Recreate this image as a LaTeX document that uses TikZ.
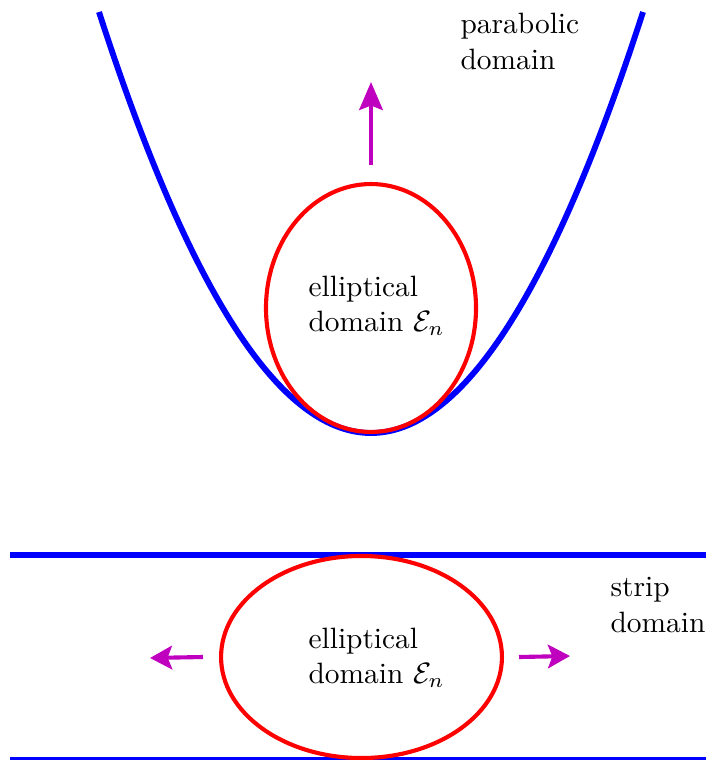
\documentclass[tikz,border=0pt]{standalone}
\usetikzlibrary{arrows.meta,shapes.geometric}
\definecolor{wallcol}{HTML}{0000FF}
\definecolor{ellcol}{HTML}{FF0000}
\definecolor{pushcol}{HTML}{BF00BF}
\tikzset{
	wall/.style={draw=wallcol,line width=2pt},
	ellbox/.style={ellipse,draw=ellcol,line width=1.4pt,inner sep=0pt},
	push/.style={draw=pushcol,line width=1.4pt,-{Stealth[length=#1,width=8pt,inset=1.5pt]}},
	push/.default=7.5pt,
	txt/.style={align=left,anchor=north west,inner sep=0pt}
}
\begin{document}
\begin{tikzpicture}[x=0.34pt,y=-0.34pt]
\useasboundingbox (0,0) rectangle (706,760);
% parabolic domain
\draw[wall] plot[domain=-272:272,samples=120,smooth] ({371+\x},{433-421*(\x/272)*(\x/272)});
\node[ellbox,minimum width=71.4pt,minimum height=84.3pt] (topell) at (371,308) {};
\node[txt] (toptxt) at (308,275) {elliptical\\domain $\mathcal{E}_n$};
\node[txt] (partxt) at (460,13) {parabolic\\domain};
\coordinate (up0) at (371,165);
\coordinate (up1) at (371,82);
\draw[push=9.5pt] (up0) -- (up1);
% strip domain
\foreach \yy in {555,760}{
	\coordinate (sl\yy) at (10,\yy);
	\coordinate (sr\yy) at (706,\yy);
	\draw[wall] (sl\yy) -- (sr\yy);
	}
\node[ellbox,minimum width=95.5pt,minimum height=68.7pt] (botell) at (361.5,657) {};
\node[txt] (bottxt) at (308,627) {elliptical\\domain $\mathcal{E}_n$};
\node[txt] (striptxt) at (610,577) {strip\\domain};
\coordinate (lf0) at (203,657);
\coordinate (lf1) at (150,658);
\coordinate (rt0) at (519,657);
\coordinate (rt1) at (570,656);
\draw[push] (lf0) -- (lf1);
\draw[push] (rt0) -- (rt1);
\end{tikzpicture}
\end{document}
